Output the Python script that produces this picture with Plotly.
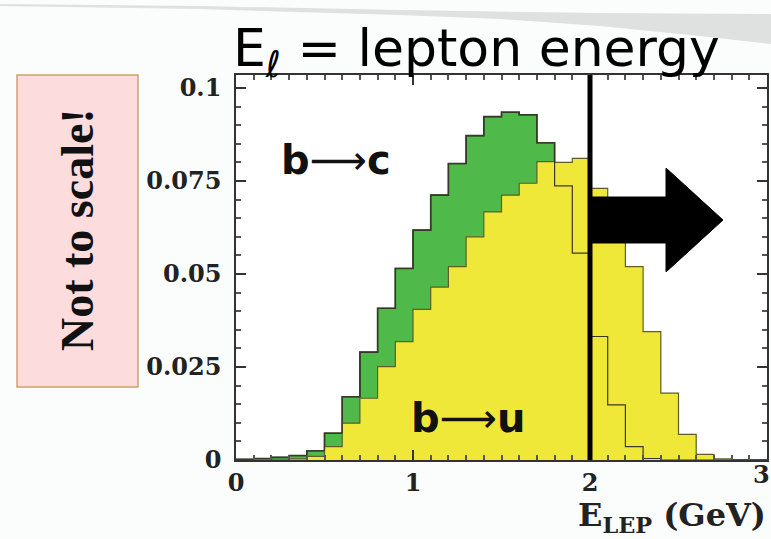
import plotly.graph_objects as go

# ---------------- data ----------------
bin_left = [0.0, 0.1, 0.2, 0.3, 0.4, 0.5, 0.6, 0.7, 0.8, 0.9,
            1.0, 1.1, 1.2, 1.3, 1.4, 1.5, 1.6, 1.7, 1.8, 1.9,
            2.0, 2.1, 2.2, 2.3, 2.4, 2.5, 2.6, 2.7, 2.8, 2.9]
bin_right_end = 3.0

b_to_c = [0.0002, 0.0004, 0.0007, 0.0012, 0.0025, 0.0072, 0.0170, 0.0290, 0.0408, 0.0515,
          0.0618, 0.0712, 0.0797, 0.0872, 0.0923, 0.0935, 0.0928, 0.0853, 0.0737, 0.0556,
          0.0332, 0.0148, 0.0036, 0.0004, 0.0, 0.0, 0.0, 0.0, 0.0, 0.0]

b_to_u = [0.0, 0.0, 0.0, 0.0003, 0.0010, 0.0036, 0.0099, 0.0166, 0.0251, 0.0318,
          0.0405, 0.0465, 0.0520, 0.0600, 0.0667, 0.0712, 0.0744, 0.0802, 0.0800, 0.0811,
          0.0730, 0.0640, 0.0520, 0.0345, 0.0180, 0.0069, 0.0015, 0.0003, 0.0, 0.0]

y_tickvals = [0, 0.025, 0.05, 0.075, 0.1]
y_ticktext = ["0", "0.025", "0.05", "0.075", "0.1"]
x_tickvals = [0, 1, 2]
x_ticktext = ["0", "1", "2"]
x_last_text = "3"

cut_energy = 2.0

title_text = "E<sub>ℓ</sub> = lepton energy"
xaxis_text = "E<sub>LEP</sub> (GeV)"
note_text = "Not to scale!"
label_bc = "<b>b</b>⟶<b>c</b>"
label_bu = "<b>b</b>⟶<b>u</b>"

# ---------------- layout geometry (pixels) ----------------
W, H = 771, 539
L, R, T, B = 236, 4, 75, 79
PW = W - L - R
PH = H - T - B
Y_TOP = 0.1035


def px(x):
    return (x - L) / PW


def py(y):
    return (H - B - y) / PH


def dx(x):
    return (x - L) / PW * 3.0


def dy(y):
    return (H - B - y) / PH * Y_TOP


def step(vals):
    xs = list(bin_left) + [bin_right_end]
    ys = list(vals) + [vals[-1]]
    return xs, ys


fig = go.Figure()

xs, ys = step(b_to_c)
fig.add_trace(go.Scatter(x=xs, y=ys, mode="lines", line_shape="hv",
                         fill="tozeroy", fillcolor="#4fba4a",
                         line=dict(color="#1c3a1c", width=1.6),
                         hoverinfo="skip", showlegend=False))
xs, ys = step(b_to_u)
fig.add_trace(go.Scatter(x=xs, y=ys, mode="lines", line_shape="hv",
                         fill="tozeroy", fillcolor="#f0e838",
                         line=dict(color="#5e5e26", width=1.2),
                         hoverinfo="skip", showlegend=False))
xs, ys = step(b_to_c)
fig.add_trace(go.Scatter(x=xs, y=ys, mode="lines", line_shape="hv",
                         line=dict(color="#3a3a2a", width=1.2),
                         hoverinfo="skip", showlegend=False))

shapes = []
# grey swoosh of slide background
sw_top = [(0, 4), (200, 6), (400, 10), (600, 13), (771, 14)]
sw_bot = [(771, 44), (700, 36), (600, 26), (500, 19), (400, 15), (200, 9), (0, 6)]
pts = sw_top + sw_bot
path = "M " + " L ".join(f"{px(a):.4f},{py(b):.4f}" for a, b in pts) + " Z"
shapes.append(dict(type="path", xref="paper", yref="paper", path=path,
                   fillcolor="rgba(150,150,150,0.28)", line=dict(width=0), layer="below"))

# cut line
shapes.append(dict(type="line", xref="x", yref="paper", x0=cut_energy, x1=cut_energy,
                   y0=0, y1=1, line=dict(color="black", width=5), layer="above"))

# big arrow
arrow_pts = [(590, 243), (666, 243), (666, 272), (723, 220), (666, 168), (666, 197), (590, 197)]
apath = "M " + " L ".join(f"{dx(a):.4f},{dy(b):.5f}" for a, b in arrow_pts) + " Z"
shapes.append(dict(type="path", xref="x", yref="y", path=apath,
                   fillcolor="black", line=dict(color="black", width=1), layer="above"))

# pink note box
shapes.append(dict(type="rect", xref="paper", yref="paper",
                   x0=px(17), x1=px(138), y0=py(387), y1=py(75),
                   fillcolor="#fcdcdc", line=dict(color="#d0a070", width=1.5), layer="above"))

axis_font = dict(family="DejaVu Serif", size=24, color="#222", weight="bold")

annotations = [
    dict(text=title_text, x=px(476), y=py(52), xref="paper", yref="paper",
         showarrow=False, xanchor="center", yanchor="middle",
         font=dict(family="DejaVu Sans", size=52, color="black")),
    dict(text=xaxis_text, x=px(767), y=py(517), xref="paper", yref="paper",
         showarrow=False, xanchor="right", yanchor="middle", borderpad=0,
         font=dict(family="DejaVu Serif", size=32, color="#222", weight="bold")),
    dict(text=x_last_text, x=px(771), y=py(475), xref="paper", yref="paper",
         showarrow=False, xanchor="right", yanchor="middle", borderpad=0,
         font=axis_font),
    dict(text=note_text, x=px(77), y=py(230), xref="paper", yref="paper",
         showarrow=False, xanchor="center", yanchor="middle", textangle=-90,
         font=dict(family="Liberation Serif", size=46, color="#111", weight="bold")),
    dict(text=label_bc, x=px(336), y=py(160), xref="paper", yref="paper",
         showarrow=False, xanchor="center", yanchor="middle",
         font=dict(family="DejaVu Sans", size=40, color="#111")),
    dict(text=label_bu, x=px(468), y=py(418), xref="paper", yref="paper",
         showarrow=False, xanchor="center", yanchor="middle",
         font=dict(family="DejaVu Sans", size=40, color="#111")),
]

fig.update_layout(
    width=W, height=H,
    margin=dict(l=L, r=R, t=T, b=B, autoexpand=False),
    paper_bgcolor="#fbfcfc", plot_bgcolor="white",
    shapes=shapes, annotations=annotations,
    showlegend=False,
    xaxis=dict(range=[0, 3], tickvals=x_tickvals, ticktext=x_ticktext,
               showgrid=False, zeroline=False, showline=True, linecolor="#333",
               linewidth=1.5, mirror="ticks", ticks="inside", ticklen=10,
               tickwidth=1.5, tickcolor="#333", tickfont=axis_font,
               ticklabelstandoff=0,
               minor=dict(ticks="inside", ticklen=5, dtick=0.1, tickcolor="#555",
                          showgrid=False)),
    yaxis=dict(range=[0, Y_TOP], tickvals=y_tickvals, ticktext=y_ticktext,
               showgrid=False, zeroline=False, showline=True, linecolor="#333",
               linewidth=1.5, mirror="ticks", ticks="inside", ticklen=10,
               tickwidth=1.5, tickcolor="#333", tickfont=axis_font,
               ticklabelstandoff=8,
               minor=dict(ticks="inside", ticklen=5, dtick=0.005, tickcolor="#555",
                          showgrid=False)),
)

fig.write_html("out.html")
